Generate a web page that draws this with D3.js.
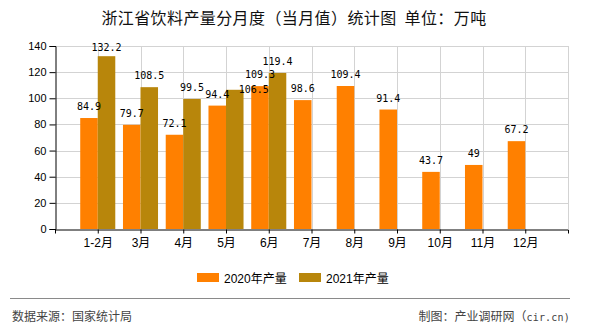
<!DOCTYPE html>
<html>
<head>
<meta charset="utf-8">
<script src="https://cdn.jsdelivr.net/npm/d3@7"></script>
<style>
  html, body { margin: 0; padding: 0; background: #fff; }
  svg { display: block; }
</style>
</head>
<body>
<svg id="chart" width="590" height="330"></svg>
<script>
// ---- data ----
const categories = ["1-2月", "3月", "4月", "5月", "6月", "7月", "8月", "9月", "10月", "11月", "12月"];
const values2020 = [84.9, 79.7, 72.1, 94.4, 109.3, 98.6, 109.4, 91.4, 43.7, 49, 67.2];
const values2021 = [132.2, 108.5, 99.5, 106.5, 119.4, null, null, null, null, null, null];
const seriesNames = ["2020年产量", "2021年产量"];
const yTicks = [0, 20, 40, 60, 80, 100, 120, 140];
const titleText = "浙江省饮料产量分月度（当月值）统计图  单位：万吨";
const sourceText = "数据来源：国家统计局";
const makerTextCN = "制图：产业调研网（";
const makerTextEN = "cir.cn)";

// ---- layout ----
const colors = ["#FF8000", "#B8860B"];
const pLeft = 55, pRight = 568, pTop = 46, pBottom = 229;
const svg = d3.select("#chart");
const sansCJK = "'Liberation Sans','Noto Sans CJK SC',sans-serif";

const x = d3.scalePoint().domain(categories).range([pLeft, pRight]).padding(1);
const y = d3.scaleLinear().domain([0, 140]).range([pBottom, pTop]);
const barW = x.step() * 0.41;

// title
svg.append("text")
  .attr("x", 294).attr("y", 24)
  .attr("text-anchor", "middle")
  .attr("xml:space", "preserve")
  .style("white-space", "pre")
  .style("font-family", "'Noto Sans CJK SC',sans-serif")
  .style("font-size", "16px")
  .style("letter-spacing", "0.4px")
  .style("fill", "#111")
  .text(titleText);

// grid
const grid = svg.append("g");
grid.selectAll("line.h").data(yTicks.filter(d => d > 0)).enter().append("line")
  .attr("x1", pLeft).attr("x2", pRight)
  .attr("y1", d => Math.round(y(d)) + 0.5).attr("y2", d => Math.round(y(d)) + 0.5)
  .attr("stroke", "#d3d3d3").attr("stroke-width", 1);
grid.selectAll("line.v").data(categories.concat(["__end"])).enter().append("line")
  .attr("x1", d => d === "__end" ? pRight + 0.5 : Math.round(x(d)) + 0.5)
  .attr("x2", d => d === "__end" ? pRight + 0.5 : Math.round(x(d)) + 0.5)
  .attr("y1", pTop).attr("y2", pBottom)
  .attr("stroke", "#d3d3d3").attr("stroke-width", 1);

// bars
const series = [values2020, values2021];
series.forEach((vals, si) => {
  svg.append("g").selectAll("rect")
    .data(categories.map((c, i) => ({ c, v: vals[i] })).filter(d => d.v != null))
    .enter().append("rect")
    .attr("x", d => si === 0 ? x(d.c) - barW : x(d.c))
    .attr("width", barW)
    .attr("y", d => y(d.v))
    .attr("height", d => pBottom - y(d.v))
    .attr("fill", colors[si]);
});

// axes
const xAxis = d3.axisBottom(x).tickSize(4).tickSizeOuter(4).tickPadding(5);
const gx = svg.append("g").attr("transform", `translate(0,${pBottom + 0.5})`).call(xAxis);
gx.selectAll("text").style("font-family", sansCJK).style("font-size", "12px").style("fill", "#000");
gx.selectAll("path,line").attr("stroke", "#000");

const yAxis = d3.axisLeft(y).tickValues(yTicks).tickSize(6).tickSizeOuter(6).tickPadding(3);
const gy = svg.append("g").attr("transform", `translate(${pLeft + 0.5},0)`).call(yAxis);
gy.selectAll("text").style("font-family", "'Liberation Sans',sans-serif").style("font-size", "11px").style("fill", "#000");
gy.selectAll("path,line").attr("stroke", "#000");

// value labels
const labelNudge = { "1|3": { dx: 19, dy: 11 } };
const labels = svg.append("g");
series.forEach((vals, si) => {
  categories.forEach((c, i) => {
    const v = vals[i];
    if (v == null) return;
    const cx = si === 0 ? x(c) - barW / 2 : x(c) + barW / 2;
    let by = Math.max(y(v) - 8, pTop + 5);
    const n = labelNudge[si + "|" + i] || { dx: 0, dy: 0 };
    labels.append("text")
      .attr("x", cx + n.dx).attr("y", by + n.dy)
      .attr("text-anchor", "middle")
      .style("font-family", "'DejaVu Sans Mono',monospace")
      .style("font-size", "10px")
      .style("fill", "#000")
      .text(v);
  });
});

// legend
const legendItems = [{ name: seriesNames[0], x: 197 }, { name: seriesNames[1], x: 299 }];
legendItems.forEach((d, i) => {
  svg.append("rect").attr("x", d.x).attr("y", 273).attr("width", 22).attr("height", 9).attr("fill", colors[i]);
  svg.append("text").attr("x", d.x + 27).attr("y", 282.5)
    .style("font-family", sansCJK).style("font-size", "12px").style("fill", "#000")
    .text(d.name);
});

// footer
svg.append("line").attr("x1", 10).attr("x2", 570).attr("y1", 298.5).attr("y2", 298.5)
  .attr("stroke", "#8a8a8a").attr("stroke-width", 1);
svg.append("text").attr("x", 12).attr("y", 321)
  .style("font-family", "'Noto Sans CJK SC',sans-serif").style("font-size", "12px").style("fill", "#444")
  .text(sourceText);
const maker = svg.append("text").attr("x", 570).attr("y", 321).attr("text-anchor", "end")
  .style("font-size", "12px").style("fill", "#444");
maker.append("tspan").style("font-family", "'Noto Sans CJK SC',sans-serif").text(makerTextCN);
maker.append("tspan").style("font-family", "'DejaVu Sans Mono',monospace").style("font-size", "10px")
  .style("letter-spacing", "0.2px").text(makerTextEN);
</script>
</body>
</html>
